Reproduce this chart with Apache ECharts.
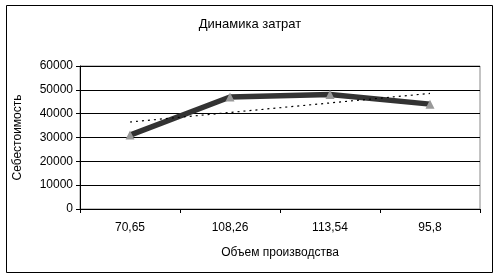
<!DOCTYPE html>
<html><head><meta charset="utf-8">
<script src="https://cdn.jsdelivr.net/npm/echarts@6/dist/echarts.min.js"></script>
<style>html,body{margin:0;padding:0;background:#fff}#c{width:500px;height:278px}</style>
</head><body><div id="c"></div>
<script>
const categories = ['70,65', '108,26', '113,54', '95,8'];
const costValues = [31000, 47000, 48000, 44000];
const trendValues = [36500, 40500, 44500, 48500];
const yTicks = [0, 10000, 20000, 30000, 40000, 50000, 60000];

const font = 'Liberation Sans, Arial, sans-serif';
const chart = echarts.init(document.getElementById('c'), null, {renderer: 'canvas'});
chart.setOption({
  animation: false,
  backgroundColor: '#fff',
  title: {
    text: 'Динамика затрат', left: 'center', top: 13,
    textStyle: {fontFamily: font, fontSize: 13, fontWeight: 'normal', color: '#000'}
  },
  graphic: [{
    type: 'rect', shape: {x: 6.5, y: 5.5, width: 486, height: 267},
    style: {fill: 'none', stroke: '#000', lineWidth: 1}, z: -1
  }],
  grid: {left: 80, right: 20, top: 66, bottom: 69, show: true, borderColor: '#888', borderWidth: 1, backgroundColor: 'transparent'},
  xAxis: {
    type: 'category', data: categories, boundaryGap: true,
    name: 'Объем производства', nameLocation: 'middle', nameGap: 38,
    nameTextStyle: {fontFamily: font, fontSize: 12, color: '#000'},
    axisLine: {lineStyle: {color: '#000', width: 1}},
    axisTick: {show: true, length: 4, inside: false, lineStyle: {color: '#000'}},
    axisLabel: {fontFamily: font, fontSize: 12, color: '#000', margin: 13},
    splitLine: {show: false}
  },
  yAxis: {
    type: 'value', min: yTicks[0], max: yTicks[yTicks.length - 1], interval: 10000,
    name: 'Себестоимость', nameLocation: 'middle', nameGap: 56,
    nameTextStyle: {fontFamily: font, fontSize: 12, color: '#000'},
    axisLine: {show: true, lineStyle: {color: '#000', width: 1}},
    axisTick: {show: true, length: 4, lineStyle: {color: '#000'}},
    axisLabel: {fontFamily: font, fontSize: 12, color: '#000', margin: 7, formatter: v => String(v)},
    splitLine: {show: true, lineStyle: {color: '#000', width: 1}}
  },
  series: [
    {
      name: 'Себестоимость', type: 'line', data: costValues,
      lineStyle: {color: '#333', width: 5.5},
      symbol: 'triangle', symbolSize: 9,
      itemStyle: {color: '#999', borderWidth: 0},
      z: 3
    },
    {
      name: 'Тренд', type: 'line', data: trendValues,
      lineStyle: {color: '#000', width: 1.2, type: [2, 4]},
      symbol: 'none', z: 4
    }
  ]
});
</script></body></html>
